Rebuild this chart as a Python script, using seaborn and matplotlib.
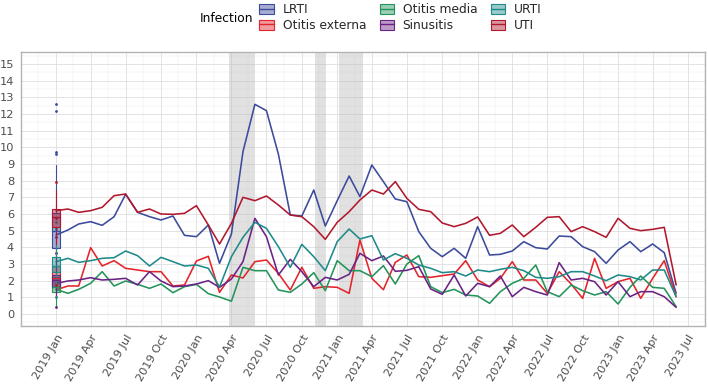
import numpy as np
import pandas as pd
import matplotlib
matplotlib.use("Agg")
import matplotlib.pyplot as plt
import matplotlib.dates as mdates
import seaborn as sns
from matplotlib.patches import Patch
from matplotlib.lines import Line2D
from matplotlib.legend_handler import HandlerTuple

# ---------------- data ----------------
months = pd.date_range("2019-01-01", "2023-06-01", freq="MS")  # 54 monthly points

infections = ["LRTI", "Otitis externa", "Otitis media", "Sinusitis", "URTI", "UTI"]

lrti = [4.74, 5.04, 5.40, 5.54, 5.32, 5.84, 7.18, 6.10, 5.84, 5.64,
        5.88, 4.72, 4.64, 5.34, 3.04, 4.80, 9.74, 12.58, 12.20, 9.60,
        5.94, 5.88, 7.44, 5.28, 6.80, 8.28, 7.04, 8.94, 7.94, 6.90,
        6.74, 4.94, 3.94, 3.44, 3.94, 3.34, 5.24, 3.54, 3.58, 3.78,
        4.34, 3.98, 3.90, 4.68, 4.64, 4.04, 3.74, 3.04, 3.84, 4.34,
        3.74, 4.20, 3.68, 1.24]
otitis_externa = [1.45, 1.68, 1.68, 3.98, 2.88, 3.20, 2.74, 2.64, 2.54, 2.54,
                  1.68, 1.74, 3.18, 3.46, 1.30, 2.34, 2.16, 3.14, 3.24, 2.44,
                  1.44, 2.80, 1.54, 1.64, 1.60, 1.24, 4.44, 2.14, 1.46, 3.10,
                  3.54, 2.24, 2.20, 2.30, 2.40, 3.20, 2.04, 1.64, 2.14, 3.14,
                  2.04, 2.04, 1.24, 2.54, 1.80, 0.94, 3.34, 1.54, 1.94, 2.14,
                  0.94, 2.14, 3.20, 1.04]
otitis_media = [1.48, 1.24, 1.48, 1.84, 2.54, 1.68, 1.98, 1.78, 1.54, 1.80,
                1.28, 1.64, 1.78, 1.22, 1.02, 0.77, 2.80, 2.60, 2.60, 1.44,
                1.30, 1.80, 2.48, 1.40, 3.20, 2.60, 2.60, 2.24, 2.90, 1.80,
                3.00, 3.50, 1.64, 1.28, 1.48, 1.14, 1.08, 0.64, 1.34, 1.84,
                2.14, 2.94, 1.34, 1.04, 1.74, 1.40, 1.14, 1.34, 0.60, 1.60,
                2.28, 1.60, 1.54, 0.44]
sinusitis = [1.84, 1.98, 2.04, 2.18, 2.04, 2.08, 2.14, 1.74, 2.54, 1.98,
             1.64, 1.68, 1.80, 2.00, 1.60, 2.10, 3.14, 5.74, 4.64, 2.34,
             3.28, 2.54, 1.64, 2.20, 2.04, 2.38, 3.64, 3.20, 3.48, 2.56,
             2.62, 2.84, 1.50, 1.18, 2.34, 1.08, 1.84, 1.64, 2.28, 1.04,
             1.60, 1.34, 1.14, 3.08, 2.04, 2.14, 1.94, 1.14, 1.94, 1.04,
             1.34, 1.34, 1.04, 0.40]
urti = [3.14, 3.34, 3.10, 3.20, 3.34, 3.38, 3.78, 3.50, 2.88, 3.40,
        3.14, 2.88, 2.94, 2.74, 1.62, 3.44, 4.60, 5.50, 5.14, 4.04,
        2.80, 4.18, 3.44, 2.60, 4.34, 5.10, 4.50, 4.70, 3.24, 3.62,
        3.34, 2.94, 2.74, 2.48, 2.54, 2.28, 2.64, 2.54, 2.68, 2.80,
        2.60, 2.20, 2.14, 2.24, 2.54, 2.54, 2.28, 2.00, 2.34, 2.24,
        2.04, 2.64, 2.64, 1.04]
uti = [6.20, 6.30, 6.10, 6.20, 6.40, 7.10, 7.20, 6.10, 6.30, 6.00,
       5.98, 6.04, 6.50, 5.34, 4.20, 5.44, 7.00, 6.80, 7.08, 6.54,
       5.94, 5.84, 5.24, 4.48, 5.50, 6.14, 6.84, 7.44, 7.20, 7.94,
       6.94, 6.28, 6.14, 5.46, 5.24, 5.44, 5.82, 4.72, 4.84, 5.34,
       4.64, 5.20, 5.80, 5.84, 4.94, 5.24, 4.94, 4.60, 5.74, 5.14,
       5.00, 5.08, 5.20, 1.74]

lockdown_start = ["2020-03-26", "2020-11-05", "2021-01-06"]
lockdown_end = ["2020-06-01", "2020-12-02", "2021-03-08"]

series = [lrti, otitis_externa, otitis_media, sinusitis, urti, uti]
colors = {"LRTI": "#3c4b9b", "Otitis externa": "#e3242b", "Otitis media": "#23945a",
          "Sinusitis": "#6a2384", "URTI": "#1f8a8a", "UTI": "#b0182e"}

t = mdates.date2num(months.to_pydatetime())
df = pd.concat([pd.DataFrame({"t": t, "value": s, "infection": name})
                for name, s in zip(infections, series)], ignore_index=True)

# ---------------- figure ----------------
sns.set_theme(style="white")
plt.rcParams['font.family'] = ['DejaVu Sans']

W, H = 708, 386
fig = plt.figure(figsize=(W / 100, H / 100), dpi=100)
ax = fig.add_axes([21 / W, 1 - 326 / H, (705 - 21) / W, (326 - 52) / H])

# lockdown shading
for s, e in zip(lockdown_start, lockdown_end):
    ax.axvspan(mdates.datestr2num(s), mdates.datestr2num(e), color="#bdbdbd",
               alpha=0.45, lw=0, zorder=1)

sns.lineplot(data=df, x="t", y="value", hue="infection", hue_order=infections,
             palette=colors, lw=1.15, legend=False, estimator=None, errorbar=None,
             ax=ax, zorder=3)

# boxplots at the first month
pos = t[0]
for name, s in zip(infections, series):
    c = colors[name]
    ax.boxplot([s], positions=[pos], widths=22, patch_artist=True,
               manage_ticks=False, zorder=4,
               boxprops=dict(facecolor=matplotlib.colors.to_rgba(c, 0.45),
                             edgecolor=c, linewidth=0.8),
               medianprops=dict(color=c, linewidth=1.0),
               whiskerprops=dict(color=c, linewidth=0.8),
               capprops=dict(linewidth=0),
               flierprops=dict(marker="o", markersize=1.0,
                               markerfacecolor=c, markeredgecolor=c))

# axes styling (theme_light look)
ax.set_xlim(mdates.datestr2num("2018-10-02"), mdates.datestr2num("2023-08-15"))
ax.set_ylim(-0.72, 15.72)
ax.set_xlabel("")
ax.set_ylabel("")
ax.xaxis.set_major_locator(mdates.MonthLocator(bymonth=[1, 4, 7, 10]))
ax.xaxis.set_minor_locator(mdates.MonthLocator(bymonth=[2, 5, 8, 11], bymonthday=15))
ax.xaxis.set_major_formatter(mdates.DateFormatter("%Y %b"))
ax.yaxis.set_major_locator(matplotlib.ticker.MultipleLocator(1))
ax.yaxis.set_minor_locator(matplotlib.ticker.MultipleLocator(0.5))

ax.grid(which="major", color="#dedede", linewidth=0.6, zorder=0)
ax.grid(which="minor", color="#ededed", linewidth=0.35, zorder=0)
ax.set_axisbelow(True)
for sp in ax.spines.values():
    sp.set_color("#b3b3b3")
    sp.set_linewidth(1.0)
ax.tick_params(axis="both", which="major", length=3, width=0.6, color="#b3b3b3",
               labelcolor="#4d4d4d", labelsize=8.2, pad=2)
ax.tick_params(axis="both", which="minor", length=0)
plt.setp(ax.get_xticklabels(), rotation=60, ha="right", rotation_mode="anchor")

# legend (ggplot-style box keys: box + median line overlaid)
handles = []
for name in infections:
    c = colors[name]
    handles.append((Patch(facecolor=matplotlib.colors.to_rgba(c, 0.45), edgecolor=c, lw=0.8),
                    Line2D([], [], color=c, lw=1.0)))
fig.legend(handles, infections, handler_map={tuple: HandlerTuple(ndivide=1, pad=0)},
           loc="upper left", bbox_to_anchor=(252 / W, 1.01), ncol=3, frameon=False,
           fontsize=8.8, handlelength=1.2, handleheight=0.9, handletextpad=0.7,
           columnspacing=1.1, labelspacing=0.2, borderaxespad=0.2)
fig.text(200 / W, 1 - 18 / H, "Infection", fontsize=8.8, color="#000000",
         va="center", ha="left")

fig.savefig("out.png", dpi=100)
